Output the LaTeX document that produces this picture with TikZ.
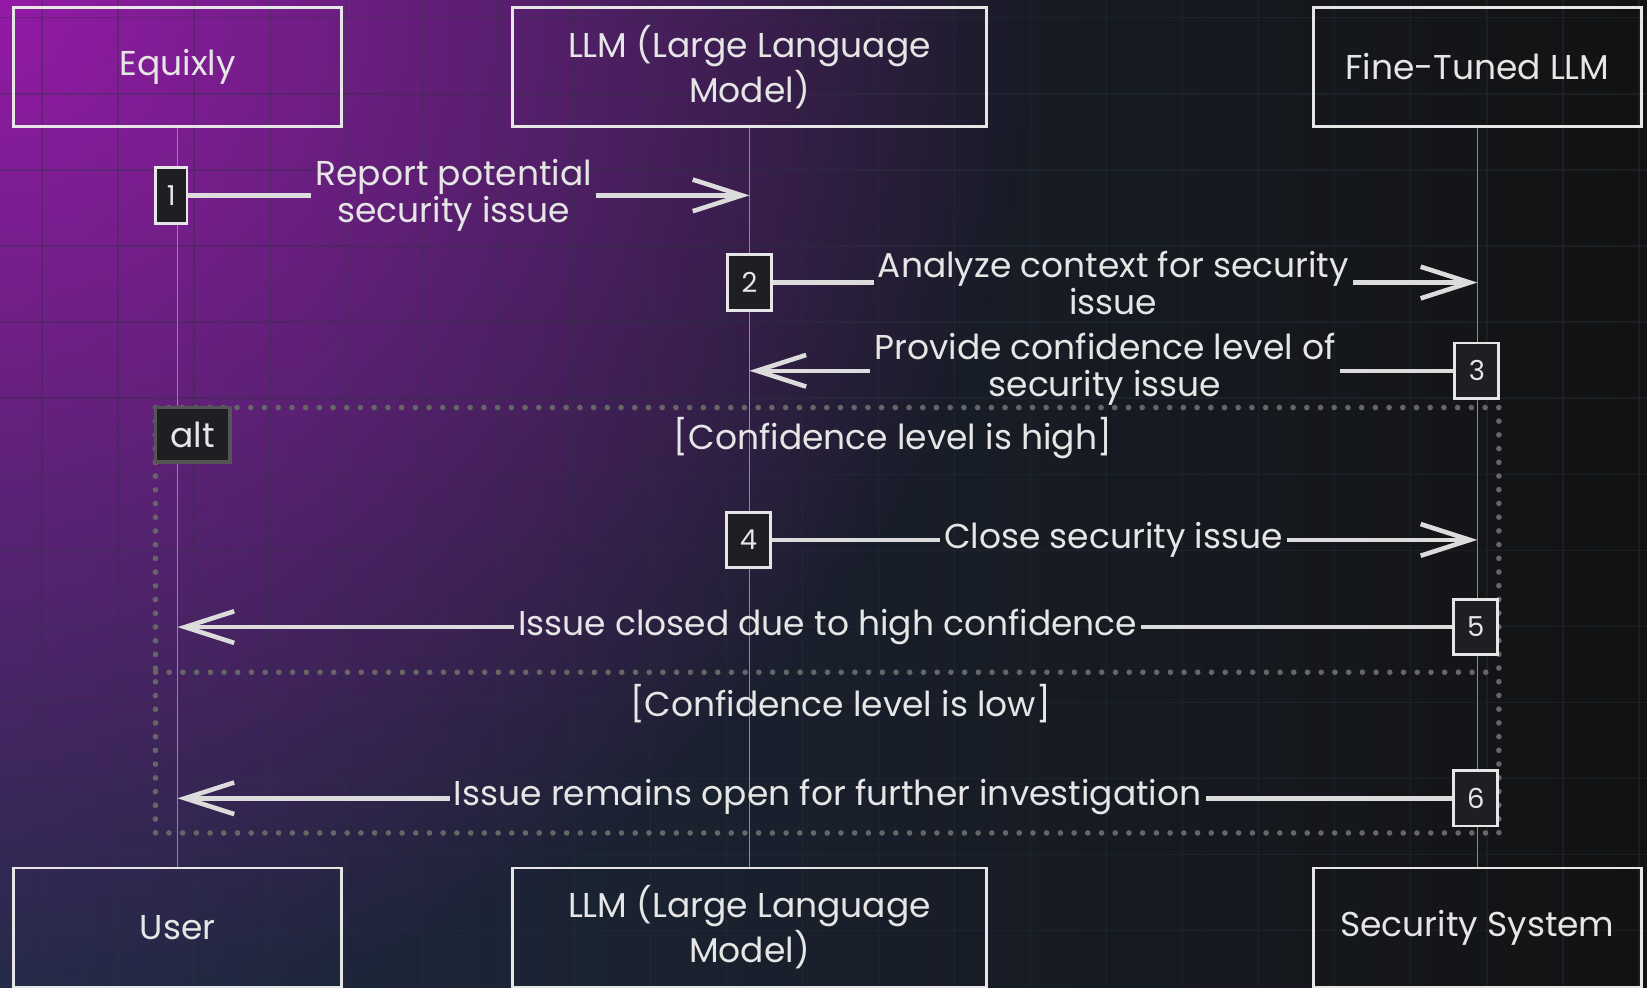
\documentclass[tikz,border=0pt]{standalone}
\usepackage{fontspec}
\setmainfont{Poppins}
\usetikzlibrary{arrows.meta,fadings}

\definecolor{ink}{HTML}{E6E6E6}
\definecolor{wire}{HTML}{DCDCDC}
\definecolor{life}{HTML}{8C8C8C}
\definecolor{dotc}{HTML}{666666}
\definecolor{actfill}{HTML}{1F1F23}
\definecolor{tagedge}{HTML}{555555}
\definecolor{bgA}{HTML}{1F2C44}
\definecolor{bgB}{HTML}{16222C}
\definecolor{bgC}{HTML}{121212}
\definecolor{violet}{HTML}{941AA6}
\definecolor{gridc}{HTML}{2C3440}

\newcommand\msgfont{\fontsize{9.8}{10.5}\selectfont}
\newcommand\numfont{\fontsize{7.8}{8}\selectfont}

\tikzfading[name=violetfade, inner color=transparent!0, outer color=transparent!100]

\tikzset{
  actor/.style={draw=ink, line width=0.8pt, minimum width=93.2pt, minimum height=33.8pt,
                inner sep=0pt, text=ink, align=center, font=\msgfont},
  wideactor/.style={actor, minimum width=134.8pt},
  act/.style={draw=ink, fill=actfill, line width=0.8pt, minimum width=12.5pt,
              minimum height=15.8pt, inner sep=0pt, text=ink, font=\numfont},
  msg/.style={draw=wire, line width=1.3pt},
  msgtip/.style={msg, -{Straight Barb[length=14pt, width=9pt]}},
  msglabel/.style={text=ink, font=\msgfont, align=center, inner sep=1pt},
  lifeline/.style={draw=life, line width=0.45pt},
  framedots/.style={draw=dotc, line width=1.6pt, line cap=round, dash pattern=on 0pt off 3.9pt},
  guard/.style={text=ink, font=\msgfont},
  alttag/.style={draw=tagedge, fill=actfill, line width=1pt, minimum width=21.2pt,
                 minimum height=15.5pt, inner sep=0pt, text=ink, font=\msgfont},
  gridline/.style={draw=gridc, line width=0.35pt, opacity=0.35}
}

\begin{document}
\begin{tikzpicture}[x=0.010504cm, y=-0.010504cm]
  % canvas and background wash
  \useasboundingbox (0,0) rectangle (1568,940);
  \shade[left color=bgA, middle color=bgB, right color=bgC] (0,0) rectangle (1568,940);
  \begin{scope}
    \clip (0,0) rectangle (1568,940);
    \fill[violet, path fading=violetfade] (0,0) circle[radius=295pt];
    \foreach \g in {0,...,21} \draw[gridline] ({40+72.4*\g},0) -- ({40+72.4*\g},940);
    \foreach \g in {0,...,13} \draw[gridline] (0,{17+72.4*\g}) -- (1568,{17+72.4*\g});
  \end{scope}

  % participants
  \node[actor]     (eq)   at (169,63.5)  {Equixly};
  \node[wideactor] (llm)  at (713.5,63.5) {LLM (Large Language\\Model)};
  \node[actor]     (ft)   at (1406.5,63.5) {Fine-Tuned LLM};
  \node[actor]     (user) at (169,883)   {User};
  \node[wideactor] (llmb) at (713.5,883) {LLM (Large Language\\Model)};
  \node[actor]     (sec)  at (1406.5,883) {Security System};

  % lifelines
  \draw[lifeline] (eq.south) -- (user.north);
  \draw[lifeline] (llm.south) -- (llmb.north);
  \draw[lifeline] (ft.south) -- (sec.north);

  % alt fragment
  \draw[framedots] (148,388) rectangle (1427,793);
  \draw[framedots] (148,640) -- (1427,640);
  \node[alttag] (alt) at (183.5,414) {alt};
  \node[guard] (g1) at (850,417) {[Confidence level is high]};
  \node[guard] (g2) at (800,670) {[Confidence level is low]};

  % activations
  \node[act, minimum width=9pt] (a1) at (163,186) {1};
  \node[act] (a2) at (713.5,269) {2};
  \node[act] (a3) at (1406,353) {3};
  \node[act] (a4) at (712.5,514) {4};
  \node[act] (a5) at (1405,597) {5};
  \node[act] (a6) at (1405,760) {6};

  % message labels
  \node[msglabel] (m1) at (432,186) {Report potential\\security issue};
  \node[msglabel] (m2) at (1060,269) {Analyze context for security\\issue};
  \node[msglabel] (m3) at (1052,352) {Provide confidence level of\\security issue};
  \node[msglabel] (m4) at (1060,514) {Close security issue};
  \node[msglabel] (m5) at (788,597) {Issue closed due to high confidence};
  \node[msglabel] (m6) at (788,759) {Issue remains open for further investigation};

  % lifeline targets
  \coordinate (t1) at (llm.south |- a1.east);
  \coordinate (t2) at (ft.south |- a2.east);
  \coordinate (t3) at (llm.south |- a3.west);
  \coordinate (t4) at (ft.south |- a4.east);
  \coordinate (t5) at (eq.south |- a5.west);
  \coordinate (t6) at (eq.south |- a6.west);

  % messages
  \draw[msg] (a1.east) -- (a1.east -| m1.west);
  \draw[msgtip] (m1.east |- a1.east) -- (t1);
  \draw[msg] (a2.east) -- (a2.east -| m2.west);
  \draw[msgtip] (m2.east |- a2.east) -- (t2);
  \draw[msg] (a3.west) -- (a3.west -| m3.east);
  \draw[msgtip] (m3.west |- a3.west) -- (t3);
  \draw[msg] (a4.east) -- (a4.east -| m4.west);
  \draw[msgtip] (m4.east |- a4.east) -- (t4);
  \draw[msg] (a5.west) -- (a5.west -| m5.east);
  \draw[msgtip] (m5.west |- a5.west) -- (t5);
  \draw[msg] (a6.west) -- (a6.west -| m6.east);
  \draw[msgtip] (m6.west |- a6.west) -- (t6);
\end{tikzpicture}
\end{document}
